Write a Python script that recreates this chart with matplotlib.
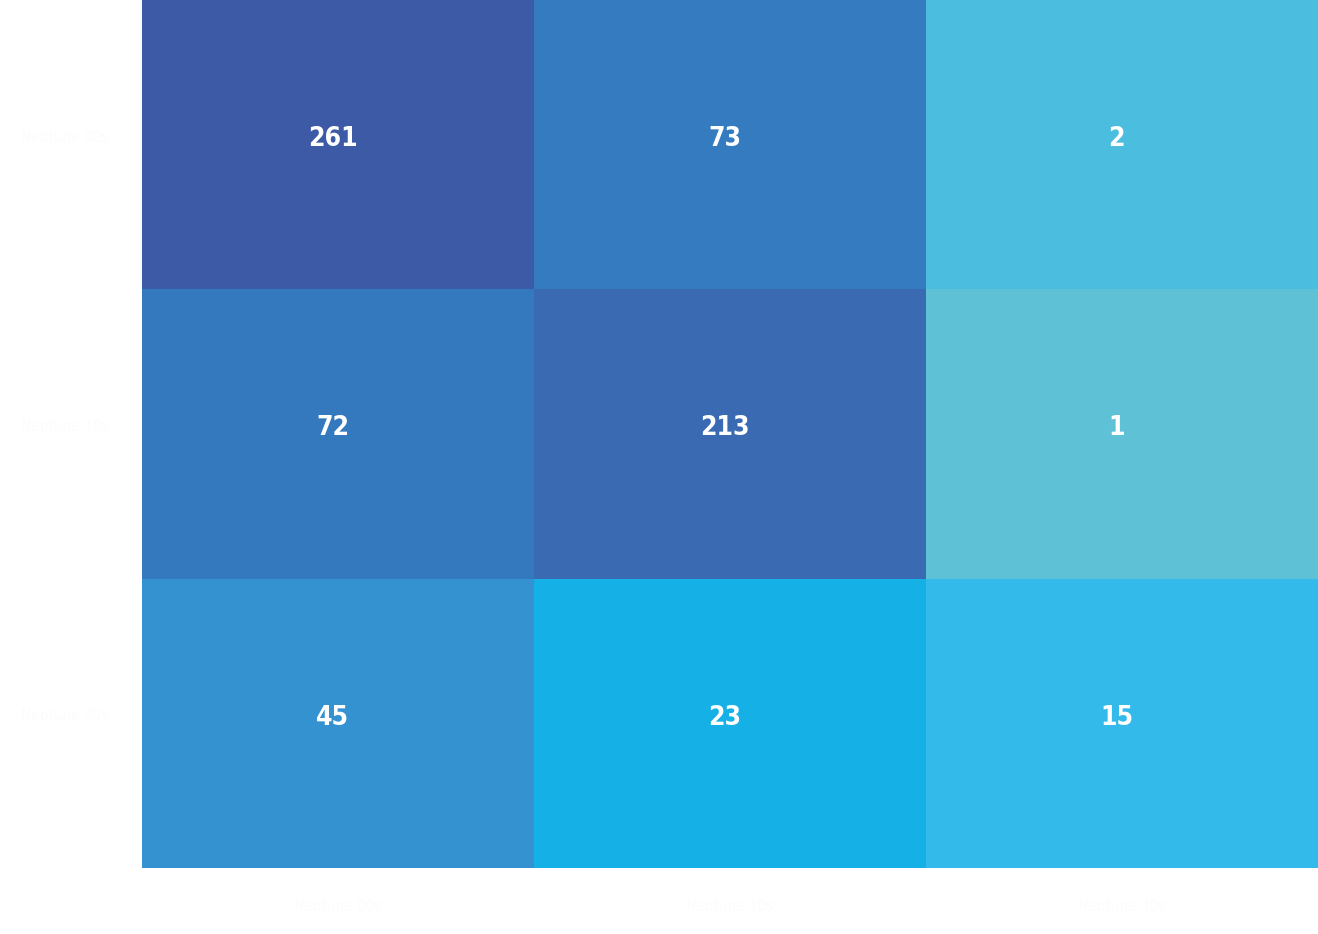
import numpy as np
import matplotlib.pyplot as plt

# Etiketter och värden (konfusionsmatris)
row_labels = ['Neptune 00s', 'Neptune 10s', 'Neptune 30s']
col_labels = ['Neptune 00s', 'Neptune 10s', 'Neptune 30s']
counts = [[261, 73, 2],
          [72, 213, 1],
          [45, 23, 15]]
cell_colors = ['#3c5aa6', '#347bbf', '#4bbddf',
               '#3478bd', '#3a6ab1', '#5ec1d6',
               '#3392cf', '#14b0e6', '#33baeb']

values = np.array(counts)
nr, nc = values.shape

fig = plt.figure(figsize=(13.18, 9.34), dpi=100)
ax = fig.add_axes([142 / 1318, 66 / 934, 1176 / 1318, 868 / 934])

mesh = ax.pcolormesh(np.arange(nc + 1), np.arange(nr + 1), values)
mesh.set_array(None)
mesh.set_facecolor(cell_colors)
ax.set_xlim(0, nc)
ax.set_ylim(nr, 0)

num_font = ['DejaVu Sans', 'Liberation Sans']
for i in range(nr):
    for j in range(nc):
        ax.annotate(str(values[i, j]), (j + 0.5, i + 0.5), xytext=(-4, 4),
                    textcoords='offset points', ha='center', va='center',
                    color='white', fontsize=19, family=num_font,
                    fontstretch='condensed', fontweight='semibold')

ax.set_xticks(np.arange(nc) + 0.5)
ax.set_xticklabels(col_labels, color='#fcfcfc', fontsize=11, family=num_font,
                   fontstretch='condensed')
ax.set_yticks(np.arange(nr) + 0.5)
ax.set_yticklabels(row_labels, color='#fcfcfc', fontsize=11, family=num_font,
                   fontstretch='condensed', va='bottom')
ax.tick_params(axis='y', length=0, pad=24)
ax.tick_params(axis='x', length=0, pad=22)
for s in ax.spines.values():
    s.set_visible(False)

fig.savefig('out.png', dpi=100)
